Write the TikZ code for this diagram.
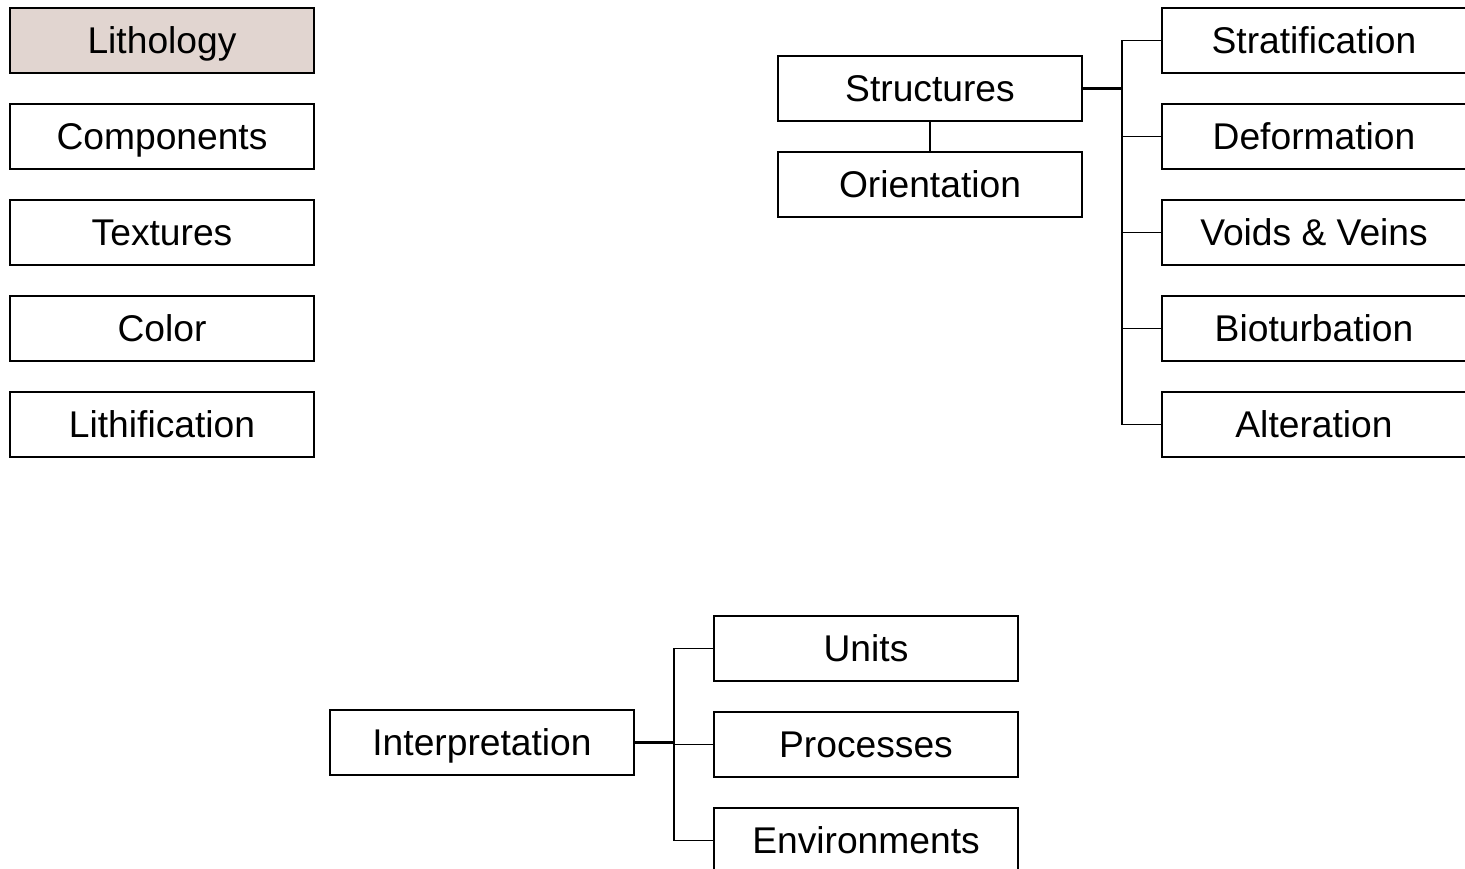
\documentclass[tikz,border=0pt]{standalone}
\usepackage{fontspec}
\setmainfont{Liberation Sans}
\definecolor{lithofill}{HTML}{E1D5D0}
\begin{document}
\begin{tikzpicture}[x=1pt,y=-1pt,
  box/.style={draw=black,line width=1.7pt,minimum width=304pt,minimum height=65pt,
    inner sep=0pt,text height=26.6pt,text depth=0pt,
    font=\fontsize{37.2}{42}\selectfont,text=black},
  link/.style={line width=1.8pt,draw=black},
  trunk/.style={line width=3pt,draw=black}]
\useasboundingbox (0,0) rectangle (1465,869);
\clip (0,0) rectangle (1465,869);
% left column
\node[box,fill=lithofill] (lith) at (162,40.5) {Lithology};
\node[box] (comp) at (162,136.5) {Components};
\node[box] (text) at (162,232.5) {Textures};
\node[box] (col) at (162,328.5) {Color};
\node[box] (lithif) at (162,424.5) {Lithification};
% structures group
\node[box] (struct) at (930,88.5) {Structures};
\node[box] (orient) at (930,184.5) {Orientation};
\node[box] (strat) at (1314,40.5) {Stratification};
\node[box] (deform) at (1314,136.5) {Deformation};
\node[box] (voids) at (1314,232.5) {Voids \& Veins};
\node[box] (biot) at (1314,328.5) {Bioturbation};
\node[box] (alter) at (1314,424.5) {Alteration};
\draw[link] (struct.south) -- (orient.north);
\coordinate (sbus) at (1122,88.5);
\draw[trunk] (struct.east) -- (sbus);
\foreach \c in {strat,deform,voids,biot,alter}
  \draw[link] (\c.west) -- (\c.west -| sbus) -- (sbus);
% interpretation group
\node[box] (interp) at (482,742.5) {Interpretation};
\node[box] (units) at (866,648.5) {Units};
\node[box] (proc) at (866,744.5) {Processes};
\node[box] (env) at (866,840.5) {Environments};
\coordinate (ibus) at (674,742.5);
\draw[trunk] (interp.east) -- (ibus);
\foreach \c in {units,proc,env}
  \draw[link] (\c.west) -- (\c.west -| ibus) -- (ibus);
\end{tikzpicture}
\end{document}
